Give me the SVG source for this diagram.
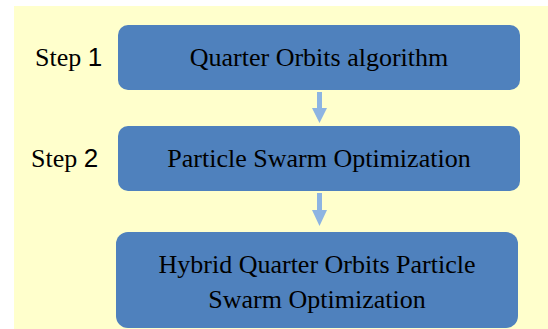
<svg xmlns="http://www.w3.org/2000/svg" width="548" height="329" viewBox="0 0 548 329">
<style>
.box{fill:#4F81BD;}
.arr{fill:#8DB4E2;}
.t{font-family:Liberation Serif, Times New Roman, serif;font-size:26px;fill:#000;}
.c{text-anchor:middle;}
.n{font-family:Liberation Sans, Arial, sans-serif;}
</style>
<rect x="0" y="0" width="548" height="329" fill="#FFFFFF"/>
<rect x="14" y="6" width="534" height="323" fill="#FFFFCC"/>
<g id="connectors">
<path class="arr" d="M317,92 H322 V108 H327 L319.5,123 L312,108 H317 Z"/>
<path class="arr" d="M317,193 H322 V210 H327 L319.5,226 L312,210 H317 Z"/>
</g>
<g id="label1"><text class="t" x="35" y="66">Step <tspan class="n">1</tspan></text></g>
<g id="label2"><text class="t" x="31" y="167">Step <tspan class="n">2</tspan></text></g>
<g id="node1">
<rect class="box" x="118" y="25" width="402" height="65" rx="10"/>
<text class="t c" x="319" y="66">Quarter Orbits algorithm</text>
</g>
<g id="node2">
<rect class="box" x="118" y="126" width="402" height="65" rx="10"/>
<text class="t c" x="319" y="167">Particle Swarm Optimization</text>
</g>
<g id="node3">
<rect class="box" x="116" y="232" width="402" height="96" rx="12"/>
<text class="t c" x="317" y="273">Hybrid Quarter Orbits Particle</text>
<text class="t c" x="317" y="308">Swarm Optimization</text>
</g>
</svg>
